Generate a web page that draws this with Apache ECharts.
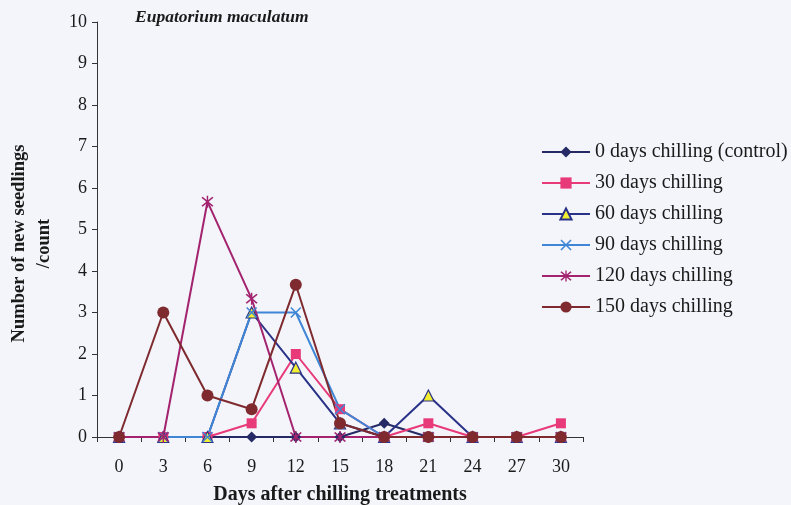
<!DOCTYPE html>
<html>
<head>
<meta charset="utf-8">
<script src="https://cdn.jsdelivr.net/npm/echarts@6/dist/echarts.min.js"></script>
<style>
  html, body { margin: 0; padding: 0; background: #f3f5fa; }
  #chart { width: 791px; height: 505px; }
</style>
</head>
<body>
<div id="chart"></div>
<script>
// Days after chilling treatments
const days = ['0', '3', '6', '9', '12', '15', '18', '21', '24', '27', '30'];

// Number of new seedlings per chilling treatment
const chill0 = [0, 0, 0, 0, 0, 0, 0.33, 0, 0, 0, 0];
const chill30 = [0, 0, 0, 0.33, 2, 0.67, 0, 0.33, 0, 0, 0.33];
const chill60 = [0, 0, 0, 3, 1.67, 0.33, 0, 1, 0, 0, 0];
const chill90 = [0, 0, 0, 3, 3, 0.67, 0, 0, 0, 0, 0];
const chill120 = [0, 0, 5.67, 3.33, 0, 0, 0, 0, 0, 0, 0];
const chill150 = [0, 3, 1, 0.67, 3.67, 0.33, 0, 0, 0, 0, 0];

const seriesNames = [
  '0 days chilling (control)',
  '30 days chilling',
  '60 days chilling',
  '90 days chilling',
  '120 days chilling',
  '150 days chilling'
];

const serif = '"Liberation Serif", "DejaVu Serif", serif';

// marker shapes: a cross and an asterisk
const crossPath = 'path://M1,0 L5,4 L9,0 L10,1 L6,5 L10,9 L9,10 L5,6 L1,10 L0,9 L4,5 L0,1 Z';
const starPath = 'path://M1,0 L5,4 L9,0 L10,1 L6,5 L10,9 L9,10 L5,6 L1,10 L0,9 L4,5 L0,1 Z M4.4,-1 L5.6,-1 L5.6,11 L4.4,11 Z';

function line(name, data, color, symbol, size, fill, border) {
  return {
    name: name,
    type: 'line',
    data: data,
    symbol: symbol,
    symbolSize: size,
    showAllSymbol: true,
    lineStyle: { color: color, width: 2 },
    itemStyle: { color: fill, borderColor: border, borderWidth: border === fill ? 0 : 1.2 },
    emphasis: { disabled: true },
    animation: false,
    z: 2
  };
}

const chart = echarts.init(document.getElementById('chart'));
chart.setOption({
  backgroundColor: '#f3f5fa',
  title: {
    text: 'Eupatorium maculatum',
    left: 130,
    top: 3,
    textStyle: { fontFamily: serif, fontSize: 17.5, fontWeight: 'bold', fontStyle: 'italic', color: '#1a1a1a' }
  },
  legend: {
    orient: 'vertical',
    left: 541,
    top: 141,
    padding: 0,
    itemWidth: 48,
    itemHeight: 14,
    itemGap: 9,
    textStyle: { fontFamily: serif, fontSize: 20, color: '#1a1a1a', lineHeight: 22 },
    data: seriesNames
  },
  grid: { left: 97, right: 208, top: 22, bottom: 68, containLabel: false, outerBoundsMode: 'none' },
  xAxis: {
    type: 'category',
    data: days,
    boundaryGap: true,
    name: 'Days after chilling treatments',
    nameLocation: 'middle',
    nameGap: 48,
    nameTextStyle: { fontFamily: serif, fontSize: 20, fontWeight: 'bold', color: '#1a1a1a', letterSpacing: 2.6 },
    axisLine: { lineStyle: { color: '#333', width: 1 } },
    axisTick: { show: true, alignWithLabel: false, length: 5, lineStyle: { color: '#333' } },
    axisLabel: { fontFamily: serif, fontSize: 18, color: '#1a1a1a', margin: 21 },
    splitLine: { show: false }
  },
  yAxis: {
    type: 'value',
    min: 0,
    max: 10,
    interval: 1,
    name: 'Number of new seedlings\n/count',
    nameLocation: 'middle',
    nameGap: 40,
    nameTextStyle: { fontFamily: serif, fontSize: 18.5, fontWeight: 'bold', color: '#1a1a1a', lineHeight: 25, padding: [0, 28, 0, 0] },
    axisLine: { show: true, lineStyle: { color: '#333', width: 1 } },
    axisTick: { show: true, length: 5, lineStyle: { color: '#333' } },
    axisLabel: { fontFamily: serif, fontSize: 18, color: '#1a1a1a', margin: 10 },
    splitLine: { show: false }
  },
  series: [
    line(seriesNames[0], chill0, '#252a66', 'diamond', 11, '#252a66', '#252a66'),
    line(seriesNames[1], chill30, '#e83a78', 'rect', 10, '#e83a78', '#e83a78'),
    line(seriesNames[2], chill60, '#2a3288', 'triangle', 11, '#f2ee30', '#2a3288'),
    line(seriesNames[3], chill90, '#3f86d6', crossPath, 11, '#3f86d6', '#3f86d6'),
    line(seriesNames[4], chill120, '#a3236f', starPath, 12, '#a3236f', '#a3236f'),
    line(seriesNames[5], chill150, '#7e2a2e', 'circle', 12, '#7e2a2e', '#7e2a2e')
  ]
});
</script>
</body>
</html>
